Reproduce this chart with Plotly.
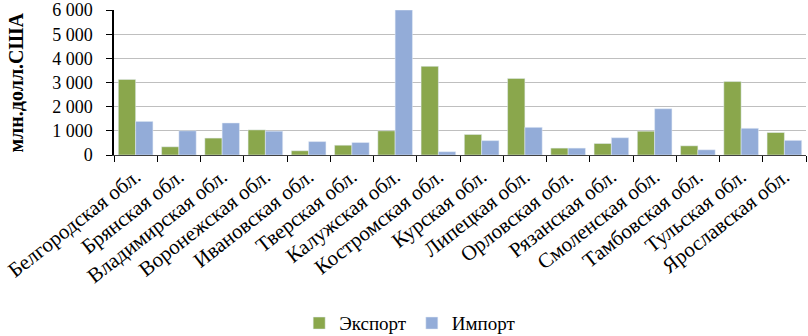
import plotly.graph_objects as go

regions = ["Белгородская обл.", "Брянская обл.", "Владимирская обл.", "Воронежская обл.",
           "Ивановская обл.", "Тверская обл.", "Калужская обл.", "Костромская обл.",
           "Курская обл.", "Липецкая обл.", "Орловская обл.", "Рязанская обл.",
           "Смоленская обл.", "Тамбовская обл.", "Тульская обл.", "Ярославская обл."]
export_vals = [3130, 340, 700, 1040, 175, 405, 1000, 3670, 850, 3170, 285, 475, 985, 380, 3040, 930]
import_vals = [1390, 1000, 1325, 985, 555, 515, 6000, 135, 595, 1145, 285, 715, 1915, 215, 1105, 605]
y_tickvals = [0, 1000, 2000, 3000, 4000, 5000, 6000]
y_ticktext = ["0", "1 000", "2 000", "3 000", "4 000", "5 000", "6 000"]

serif = "Liberation Serif, serif"

fig = go.Figure()
fig.add_trace(go.Bar(x=regions, y=export_vals, name="Экспорт", marker_color="#8AA74C"))
fig.add_trace(go.Bar(x=regions, y=import_vals, name="Импорт", marker_color="#93ACD8"))

fig.update_layout(
    width=808, height=336,
    margin=dict(l=114, r=2, t=10, b=181, autoexpand=False),
    plot_bgcolor="white", paper_bgcolor="white",
    barmode="group", bargap=0.2, bargroupgap=0,
    font=dict(family=serif, size=18, color="black"),
    showlegend=True,
    legend=dict(orientation="h", x=0.428, xanchor="center", y=-1.16, yanchor="middle",
                font=dict(family=serif, size=19), itemwidth=30, traceorder="normal"),
    xaxis=dict(tickangle=-38, ticks="outside", tickson="boundaries", ticklen=6,
               tickcolor="black", showline=True, linecolor="#404040", linewidth=1,
               automargin=False, tickfont=dict(family=serif, size=21)),
    yaxis=dict(range=[0, 6002], tickvals=y_tickvals, ticktext=y_ticktext,
               showgrid=True, gridcolor="#BFBFBF", gridwidth=1,
               showline=True, linecolor="black", linewidth=1.5,
               ticks="outside", ticklen=6, tickcolor="black", automargin=False,
               ticklabelstandoff=10, zeroline=False, ticklabeloverflow="allow",
               tickfont=dict(family=serif, size=18)),
)
fig.add_annotation(text="<b>млн.долл.США</b>", textangle=-90, showarrow=False,
                   xref="paper", yref="paper", x=-0.143, y=0.5, xanchor="center", yanchor="middle",
                   font=dict(family=serif, size=20))

fig.write_html("out.html", config={"displayModeBar": False},
               post_script="document.body.style.margin='0';document.body.style.padding='0';")
